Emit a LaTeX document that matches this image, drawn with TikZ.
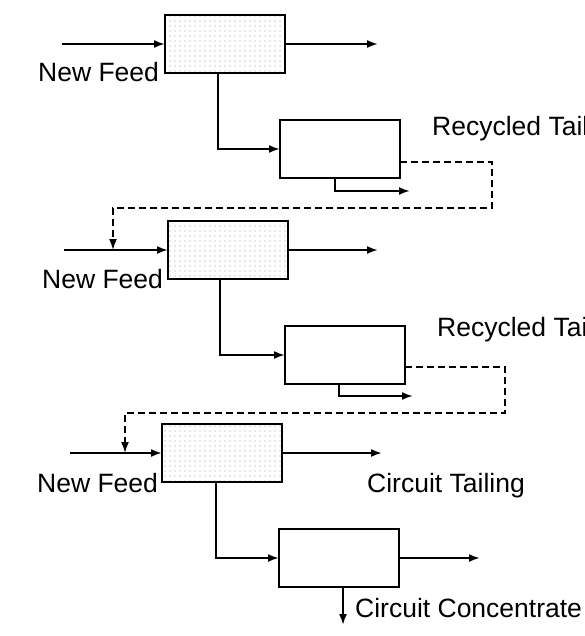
\documentclass[tikz,border=0pt]{standalone}
\usepackage{fontspec}
\setmainfont{Liberation Sans}
\usetikzlibrary{arrows.meta,patterns.meta}
\begin{document}
\begin{tikzpicture}[x=1pt,y=-1pt,
  unit/.style={draw,line width=1.9pt,minimum width=120pt,minimum height=58pt,inner sep=0pt,outer sep=0pt},
  rougher/.style={unit,pattern={Dots[distance=5pt,radius=0.55pt]},pattern color=black!40},
  cleaner/.style={unit,fill=white},
  flow/.style={line width=1.9pt,-{Latex[length=11pt,width=8pt]}},
  recyc/.style={line width=1.6pt,dash pattern=on 7pt off 4pt,-{Latex[length=11pt,width=8pt]}},
  lbl/.style={font=\fontsize{26.5}{28}\selectfont,inner sep=0pt,anchor=base west}
]
\clip (0,0) rectangle (585,636);

% units
\node[rougher] (R1) at (225,44) {};
\node[cleaner] (C1) at (340,149) {};
\node[rougher] (R2) at (228,250) {};
\node[cleaner] (C2) at (345,355) {};
\node[rougher] (R3) at (222,453) {};
\node[cleaner] (C3) at (339,558) {};

% free ends
\coordinate (f1) at (62,44);
\coordinate (f2) at (64,250);
\coordinate (f3) at (70,453);
\coordinate (o1) at (378,44);
\coordinate (o2) at (378,250);
\coordinate (o3) at (382,453);
\coordinate (t1) at (410,191);
\coordinate (t2) at (413,396);
\coordinate (o4) at (480,558);
\coordinate (cc) at (343,625);
\coordinate (r1a) at (492,208);
\coordinate (r1b) at (113,208);
\coordinate (r2a) at (505,413);
\coordinate (r2b) at (125,413);

% feeds
\draw[flow] (f1) -- (R1.west);
\draw[flow] (f2) -- (R2.west);
\draw[flow] (f3) -- (R3.west);

% rougher tailings
\draw[flow] (R1.east) -- (o1);
\draw[flow] (R2.east) -- (o2);
\draw[flow] (R3.east) -- (o3);

% rougher concentrate to cleaner
\draw[flow] ([xshift=-7pt]R1.south) |- (C1.west);
\draw[flow] ([xshift=-8pt]R2.south) |- (C2.west);
\draw[flow] ([xshift=-6pt]R3.south) |- (C3.west);

% cleaner concentrates
\draw[flow] ([xshift=-5pt]C1.south) |- (t1);
\draw[flow] ([xshift=-6pt]C2.south) |- (t2);
\draw[flow] ([xshift=4pt]C3.south) -- (cc);
\draw[flow] (C3.east) -- (o4);

% recycled tailings
\draw[recyc] ([yshift=-13pt]C1.east) -| (r1a) -- (r1b) -- (r1b |- f2);
\draw[recyc] ([yshift=-12pt]C2.east) -| (r2a) -- (r2b) -- (r2b |- f3);

% labels
\node[lbl] (nf1) at (38,82) {New Feed};
\node[lbl] (nf2) at (42,288) {New Feed};
\node[lbl] (nf3) at (37,492) {New Feed};
\node[lbl] (rt1) at (432,136) {Recycled Tailing};
\node[lbl] (rt2) at (437,336) {Recycled Tailing};
\node[lbl] (ct) at (367,492) {Circuit Tailing};
\node[lbl] (cct) at (355,617) {Circuit Concentrate};
\end{tikzpicture}
\end{document}
